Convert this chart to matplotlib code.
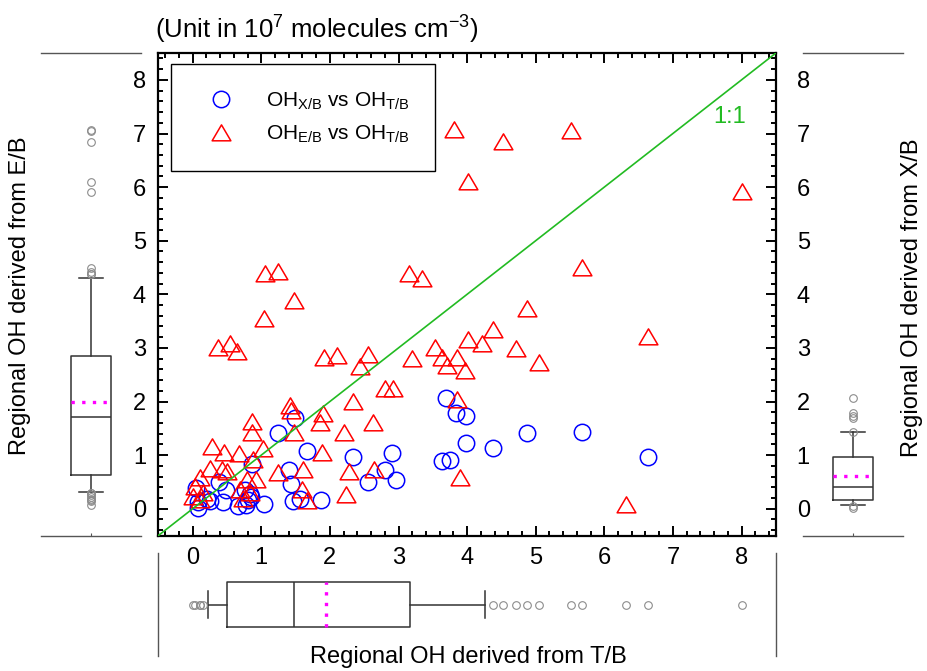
import matplotlib
matplotlib.use("Agg")
import matplotlib.pyplot as plt
from matplotlib.path import Path
from matplotlib.ticker import MultipleLocator

plt.rcParams['font.family'] = ['Liberation Sans', 'DejaVu Sans']
plt.rcParams['mathtext.default'] = 'regular'

# Regional OH (10^7 molecules cm^-3): T/B on x, X/B on y
xb_tb = [3.69, 3.84, 3.98, 1.49, 5.67, 4.88, 1.25, 3.99, 4.38, 1.66, 2.91, 6.63,
         2.33, 3.64, 3.75, 0.86, 2.80, 1.40, 2.97, 2.55, 1.44, 1.87, 1.46, 1.57,
         0.39, 0.49, 0.05, 0.07, 0.07, 0.25, 0.44, 0.66, 0.76, 0.85, 0.81, 1.04,
         0.77, 0.84, 0.21]
xb_val = [2.06, 1.78, 1.73, 1.69, 1.44, 1.42, 1.42, 1.22, 1.14, 1.08, 1.04, 0.97,
          0.96, 0.89, 0.90, 0.83, 0.72, 0.72, 0.54, 0.49, 0.46, 0.16, 0.15, 0.19,
          0.50, 0.34, 0.39, 0.02, 0.12, 0.14, 0.12, 0.05, 0.35, 0.22, 0.16, 0.09,
          0.07, 0.27, 0.19]

# Regional OH: T/B on x, E/B on y
eb_tb = [3.81, 5.51, 4.53, 4.01, 8.01, 5.67, 1.05, 1.24, 3.15, 3.34, 1.48, 1.04,
         4.88, 4.38, 6.63, 4.02, 4.22, 4.72, 3.53, 3.64, 3.85, 3.70, 3.97, 5.05,
         3.19, 1.91, 2.11, 2.56, 2.44, 2.80, 2.92, 2.34, 3.85, 1.90, 1.86, 2.63,
         2.20, 1.88, 1.61, 2.28, 2.64, 3.89, 2.24, 1.66, 6.31, 0.37, 0.54, 0.65,
         1.42, 1.43, 0.86, 0.87, 1.47, 1.25, 1.59, 0.28, 0.45, 0.68, 1.03, 0.88,
         0.25, 0.42, 0.50, 0.11, 0.03, 0.79, 0.93, 0.69, 0.84, 0.74, 0.01, 0.15,
         0.10]
eb_val = [7.06, 7.05, 6.84, 6.10, 5.90, 4.50, 4.37, 4.41, 4.37, 4.28, 3.87, 3.53,
          3.73, 3.34, 3.20, 3.15, 3.07, 2.98, 2.99, 2.81, 2.81, 2.67, 2.56, 2.71,
          2.80, 2.82, 2.85, 2.86, 2.65, 2.24, 2.24, 2.00, 2.03, 1.76, 1.59, 1.59,
          1.42, 1.03, 0.73, 0.69, 0.72, 0.57, 0.26, 0.15, 0.07, 2.99, 3.07, 2.93,
          1.92, 1.83, 1.62, 1.42, 1.41, 0.66, 0.35, 1.16, 1.04, 1.02, 1.11, 0.91,
          0.75, 0.72, 0.69, 0.57, 0.41, 0.54, 0.54, 0.35, 0.29, 0.19, 0.22, 0.29,
          0.16]

# Box statistics for each estimate
tb_box = dict(q1=0.50, med=1.48, q3=3.17, whislo=0.23, whishi=4.26, mean=1.95)
eb_box = dict(q1=0.62, med=1.72, q3=2.85, whislo=0.31, whishi=4.31, mean=2.00)
xb_box = dict(q1=0.16, med=0.41, q3=0.97, whislo=0.07, whishi=1.43, mean=0.61)

tick_vals = list(range(0, 9))

W, H = 927, 671
FS = 17


def rect(x0, y0, x1, y1):
    return [x0 / W, 1 - y1 / H, (x1 - x0) / W, (y1 - y0) / H]


def with_fliers(stats, values):
    s = dict(stats)
    s['fliers'] = [v for v in values if v < s['whislo'] or v > s['whishi']]
    return s


fig = plt.figure(figsize=(W / 100, H / 100), dpi=100)

AX_L, AX_T, AX_R, AX_B = 158.4, 53.1, 775.8, 535.5
ax = fig.add_axes(rect(AX_L, AX_T, AX_R, AX_B))
ax.set_xlim(-0.5, 8.5)
ax.set_ylim(-0.5, 8.5)

tri = Path([(-1.0, -0.78), (1.0, -0.78), (0.0, 0.92), (-1.0, -0.78)],
           [Path.MOVETO, Path.LINETO, Path.LINETO, Path.CLOSEPOLY])

h1, = ax.plot(xb_tb, xb_val, 'o', ls='none', mfc='none', mec='#0000ff',
              ms=11.8, mew=1.1, zorder=3)
h2, = ax.plot(eb_tb, eb_val, marker=tri, ls='none', mfc='none', mec='#ff0000',
              ms=13.5, mew=1.1, zorder=4)
ax.plot([-0.5, 8.5], [-0.5, 8.5], color='#22bb22', lw=1.2, zorder=5)
ax.text(7.83, 7.31, '1:1', color='#22bb22', fontsize=FS, ha='center', va='center')

ax.set_xticks(tick_vals)
ax.set_yticks(tick_vals)
ax.xaxis.set_minor_locator(MultipleLocator(0.2))
ax.yaxis.set_minor_locator(MultipleLocator(0.2))
ax.tick_params(which='both', direction='in', top=True, right=True,
               labelsize=FS, width=1.4, color='black')
ax.tick_params(which='major', length=7.5)
ax.tick_params(which='minor', length=3.8)
ax.tick_params(axis='y', which='major', pad=9)
ax.tick_params(axis='x', which='major', pad=8)
for sp in ax.spines.values():
    sp.set_linewidth(1.6)

# labels on the right-hand scale (X/B)
ry = ax.secondary_yaxis('right')
ry.set_yticks(tick_vals)
ry.tick_params(axis='y', length=0, labelsize=FS, pad=15)
ry.spines['right'].set_visible(False)

leg = ax.legend([h1, h2],
                ['OH$_{X/B}$ vs OH$_{T/B}$', 'OH$_{E/B}$ vs OH$_{T/B}$'],
                loc='upper left', bbox_to_anchor=(0.02, 0.977),
                borderaxespad=0, fontsize=15, frameon=True, fancybox=False,
                edgecolor='black', framealpha=1, borderpad=1.25,
                handlelength=2.3, handletextpad=1.0, labelspacing=0.6,
                numpoints=1)
leg.get_frame().set_linewidth(1.0)

box_kw = dict(showmeans=True, meanline=True, patch_artist=False,
              boxprops=dict(color='#333333', lw=1.1),
              whiskerprops=dict(color='#333333', lw=1.1),
              capprops=dict(color='#333333', lw=1.1),
              medianprops=dict(color='#333333', lw=1.1),
              meanprops=dict(color='#ff00ff', lw=2.4, ls=(0, (1, 2.2))),
              flierprops=dict(marker='o', mfc='none', mec='#8c8c8c',
                              ms=5.5, mew=0.8),
              manage_ticks=False)


def side_panel(x0, x1, stats, values):
    p = fig.add_axes(rect(x0, AX_T, x1, AX_B))
    p.set_facecolor('none')
    p.set_xlim(0, 2)
    p.set_ylim(-0.5, 8.5)
    p.bxp([with_fliers(stats, values)], positions=[1], widths=0.8,
          capwidths=0.48, **box_kw)
    for k in ('left', 'right'):
        p.spines[k].set_visible(False)
    for k in ('top', 'bottom'):
        p.spines[k].set_color('#555555')
        p.spines[k].set_linewidth(1.0)
    p.set_yticks([])
    p.set_xticks([1])
    p.tick_params(axis='x', direction='in', length=2.5, color='#555555',
                  labelbottom=False)
    return p


side_panel(41, 141, eb_box, eb_val)
side_panel(803, 903, xb_box, xb_val)

pb = fig.add_axes(rect(AX_L, 553, AX_R, 656))
pb.set_facecolor('none')
pb.set_xlim(-0.5, 8.5)
pb.set_ylim(0, 2)
pb.bxp([with_fliers(tb_box, eb_tb)], positions=[1], widths=0.874,
       capwidths=0.505, orientation='horizontal', **box_kw)
for k in ('top', 'bottom'):
    pb.spines[k].set_visible(False)
for k in ('left', 'right'):
    pb.spines[k].set_color('#555555')
    pb.spines[k].set_linewidth(1.0)
pb.set_xticks([])
pb.set_yticks([])

fig.text(155 / W, 1 - 30 / H, '(Unit in 10$^{7}$ molecules cm$^{-3}$)',
         fontsize=18.5, ha='left', va='center')
fig.text(468 / W, 1 - 657 / H, 'Regional OH derived from T/B',
         fontsize=FS, ha='center', va='center')
fig.text(20 / W, 1 - 296 / H, 'Regional OH derived from E/B',
         fontsize=FS, ha='center', va='center', rotation=90)
fig.text(912 / W, 1 - 298 / H, 'Regional OH derived from X/B',
         fontsize=FS, ha='center', va='center', rotation=90)

fig.savefig('out.png', dpi=100)
